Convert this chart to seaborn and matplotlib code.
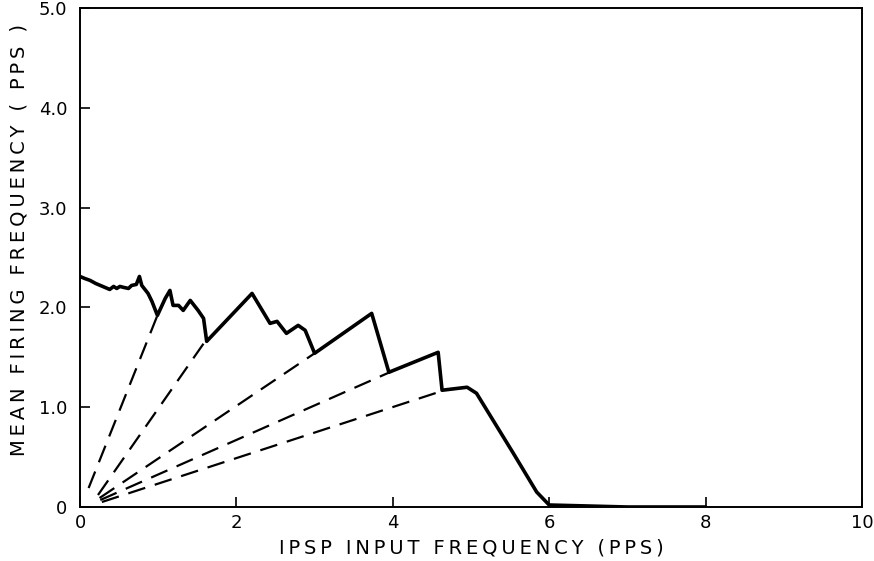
import matplotlib
matplotlib.use("Agg")
import matplotlib.pyplot as plt
import seaborn as sns
import pandas as pd

# Main response curve (IPSP input frequency vs mean firing frequency)
curve_x = [0.00, 0.06, 0.13, 0.20, 0.26, 0.32, 0.38, 0.43, 0.47, 0.51, 0.56, 0.62,
           0.66, 0.72, 0.76, 0.79, 0.87, 0.92, 0.99, 1.09, 1.15, 1.19, 1.26, 1.32,
           1.41, 1.51, 1.58, 1.62, 2.20, 2.43, 2.52, 2.64, 2.79, 2.88, 3.00, 3.73,
           3.95, 4.58, 4.63, 4.95, 5.07, 5.54, 5.84, 6.00, 7.00, 8.00]
curve_y = [2.31, 2.29, 2.27, 2.24, 2.22, 2.20, 2.18, 2.21, 2.19, 2.21, 2.20, 2.19,
           2.22, 2.23, 2.31, 2.22, 2.14, 2.06, 1.92, 2.09, 2.17, 2.02, 2.02, 1.97,
           2.07, 1.97, 1.89, 1.66, 2.14, 1.84, 1.86, 1.74, 1.82, 1.77, 1.54, 1.94,
           1.35, 1.55, 1.17, 1.20, 1.14, 0.54, 0.15, 0.02, 0.00, 0.00]

# Dashed lines from near the origin to the local minima
dash_x0 = [0.11, 0.23, 0.25, 0.26, 0.28]
dash_y0 = [0.19, 0.12, 0.09, 0.07, 0.05]
dash_x1 = [0.99, 1.60, 3.00, 3.96, 4.62]
dash_y1 = [1.92, 1.66, 1.54, 1.35, 1.16]

x_ticks = [0, 2, 4, 6, 8, 10]
x_ticklabels = ["0", "2", "4", "6", "8", "10"]
y_ticks = [0, 1, 2, 3, 4, 5]
y_ticklabels = ["0", "1.0", "2.0", "3.0", "4.0", "5.0"]

x_label = "IPSP INPUT FREQUENCY (PPS)"
y_label = "MEAN FIRING FREQUENCY ( PPS )"


def spaced(s):
    return "\u2009".join(s)


sns.set_theme(style="white")
plt.rcParams["font.family"] = ["DejaVu Sans"]

fig = plt.figure(figsize=(8.74, 5.61), dpi=100)
ax = fig.add_axes([80 / 874, 54 / 561, 782 / 874, 499 / 561])

df = pd.DataFrame({"x": curve_x, "y": curve_y})
sns.lineplot(data=df, x="x", y="y", sort=False, estimator=None, ax=ax,
             color="black", linewidth=2.6)

for x0, y0, x1, y1 in zip(dash_x0, dash_y0, dash_x1, dash_y1):
    d = pd.DataFrame({"x": [x0, x1], "y": [y0, y1]})
    sns.lineplot(data=d, x="x", y="y", sort=False, estimator=None, ax=ax,
                 color="black", linewidth=1.6)
    ax.lines[-1].set_dashes([8, 4.5])

ax.set_xlim(0, 10)
ax.set_ylim(0, 5)
ax.set_xticks(x_ticks)
ax.set_xticklabels(x_ticklabels)
ax.set_yticks(y_ticks)
ax.set_yticklabels(y_ticklabels)
ax.tick_params(direction="in", length=7, width=1.2, labelsize=13, color="black",
               labelcolor="black", bottom=True, left=True)
ax.tick_params(axis="x", pad=5)
ax.tick_params(axis="y", pad=9)
for s in ax.spines.values():
    s.set_color("black")
    s.set_linewidth(1.4)

ax.set_xlabel(spaced(x_label), fontsize=14, color="black")
ax.set_ylabel(spaced(y_label), fontsize=14, color="black")
ax.xaxis.set_label_coords(0.5, -0.064)
ax.yaxis.set_label_coords(-0.066, 0.535)

fig.savefig("out.png", dpi=100, facecolor="white")
